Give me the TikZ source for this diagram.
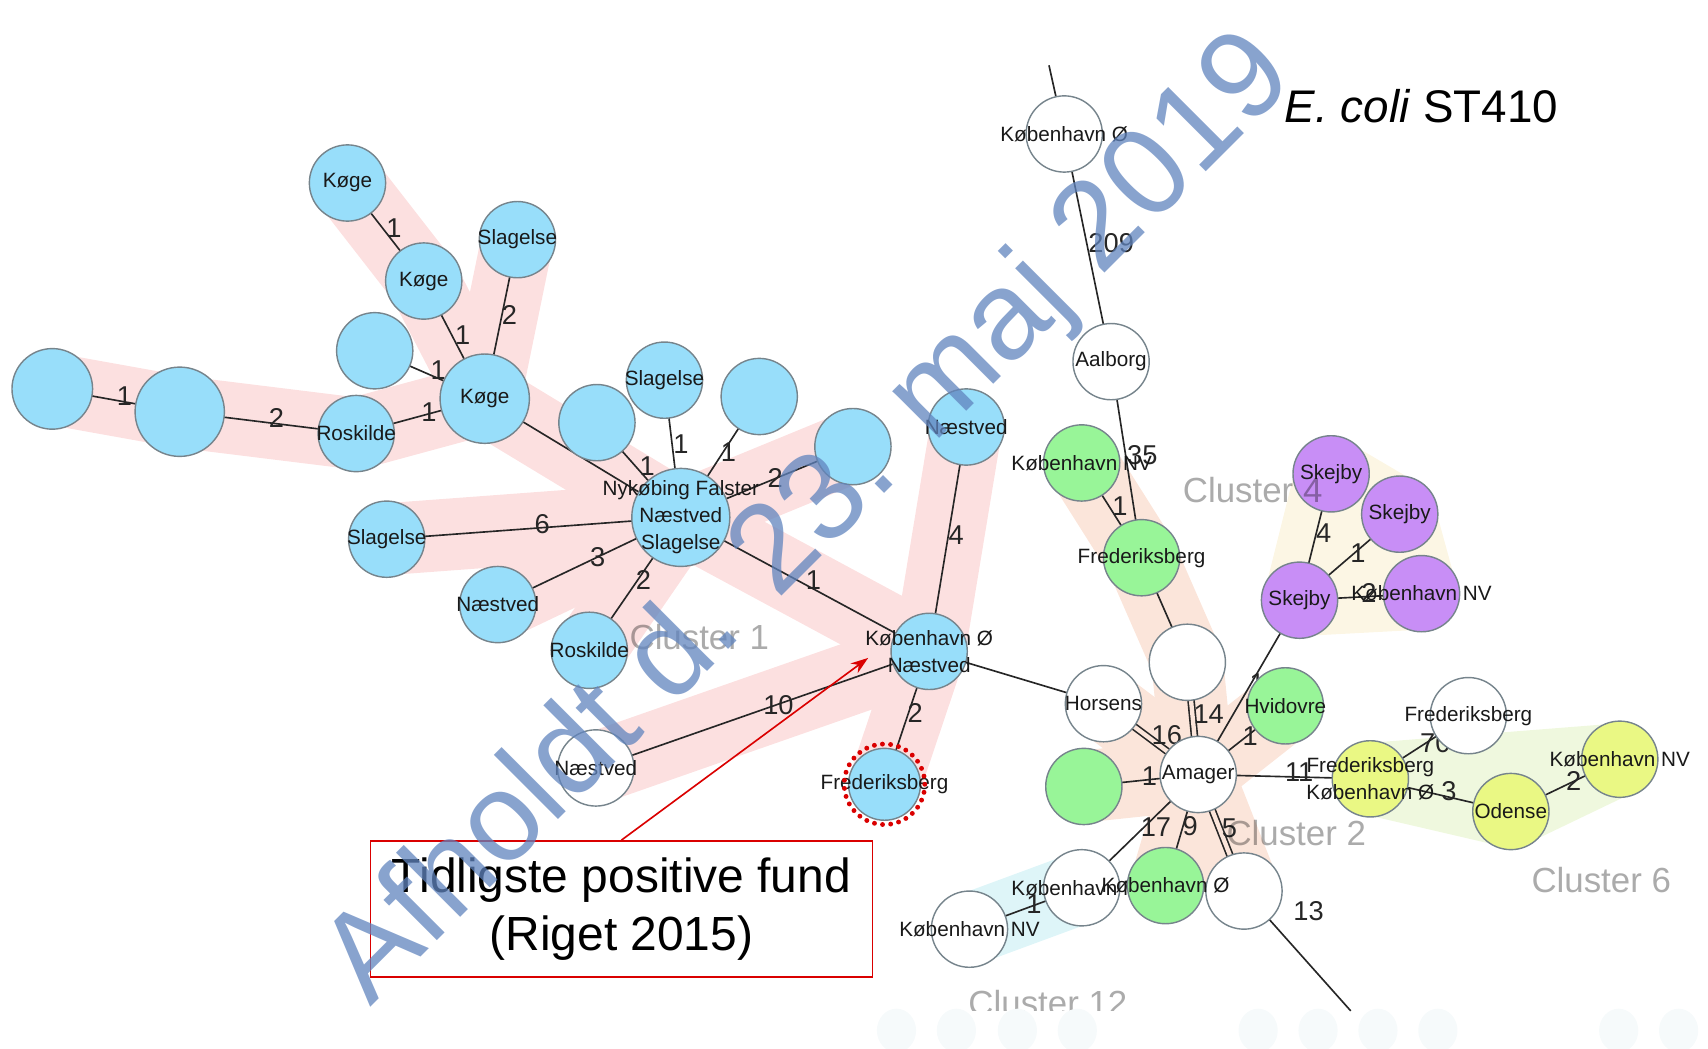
\documentclass[tikz,border=0pt]{standalone}
\usepackage{fontspec}
\setmainfont{Liberation Sans}
\usetikzlibrary{arrows.meta}

\pgfdeclarelayer{hull}
\pgfdeclarelayer{edges}
\pgfdeclarelayer{front}
\pgfsetlayers{hull,edges,main,front}

\definecolor{cblue}{RGB}{152,222,250}
\definecolor{cgreen}{RGB}{152,245,152}
\definecolor{cpurple}{RGB}{200,142,246}
\definecolor{cyellow}{RGB}{234,248,132}
\definecolor{rim}{RGB}{118,132,140}
\definecolor{ink}{RGB}{25,25,25}
\definecolor{pinkhull}{RGB}{252,224,224}
\definecolor{salmonhull}{RGB}{251,229,218}
\definecolor{creamhull}{RGB}{252,246,228}
\definecolor{lemonhull}{RGB}{239,248,222}
\definecolor{cyanhull}{RGB}{222,245,248}
\definecolor{faint}{RGB}{246,250,251}
\definecolor{stampblue}{RGB}{96,132,190}
\definecolor{notered}{RGB}{218,0,0}

\newcommand{\cityfont}{\fontsize{19}{25}\selectfont}
\newcommand{\snpfont}{\fontsize{25}{28}\selectfont}
\newcommand{\clusterfont}{\fontsize{32}{36}\selectfont}

\begin{document}
\begin{tikzpicture}[x=1pt, y=-1pt,
	city/.style={circle, draw=rim, line width=1.3pt, minimum size=70pt, inner sep=0pt},
	txt/.style={label={[font=\cityfont, align=center, text=ink, inner sep=0pt]center:#1}},
	bluecity/.style={city, fill=cblue},
	greencity/.style={city, fill=cgreen},
	purplecity/.style={city, fill=cpurple},
	yellowcity/.style={city, fill=cyellow},
	whitecity/.style={city, fill=white},
	link/.style={draw=black!85, line width=1.5pt},
	twin/.style={link, double=salmonhull, double distance=4pt},
	snp/.style={anchor=west, inner sep=0pt, yshift=4pt, font=\snpfont, text=black!85},
	hull/.style={line width=66pt, line cap=round, line join=round, draw=#1},
	cluster/.style={font=\clusterfont, text=black, opacity=0.33},
	callout/.style={draw=notered, line width=1.5pt, minimum width=461pt, minimum height=125pt, align=center, font=\fontsize{44}{54}\selectfont},
	pointer/.style={draw=notered, line width=1.5pt, -{Stealth[length=16pt, width=11pt]}},
	stamp/.style={rotate=45, inner sep=0pt, font=\fontsize{115}{120}\selectfont, text=stampblue, text opacity=0.75}]
	\useasboundingbox (0,0) rectangle (1568,963);

	% cluster 1
	\node[bluecity, txt=Køge] (koge1) at (319,168) {};
	\node[bluecity, txt=Køge] (koge2) at (389,258) {};
	\node[bluecity, txt=Slagelse] (slag1) at (475,220) {};
	\node[bluecity] (blank1) at (344,322) {};
	\node[bluecity, minimum size=82pt, txt=Køge] (kogehub) at (445,366) {};
	\node[bluecity, minimum size=74pt] (blank2) at (48,357) {};
	\node[bluecity, minimum size=82pt] (blank3) at (165,378) {};
	\node[bluecity, txt=Roskilde] (rosk1) at (327,398) {};
	\node[bluecity] (blank4) at (548,388) {};
	\node[bluecity, txt=Slagelse] (slag2) at (610,349) {};
	\node[bluecity] (blank5) at (697,364) {};
	\node[bluecity] (blank6) at (783,410) {};
	\node[bluecity, minimum size=90pt, txt={Nykøbing Falster\\Næstved\\Slagelse}] (nyk) at (625,475) {};
	\node[bluecity, txt=Slagelse] (slag3) at (355,495) {};
	\node[bluecity, txt=Næstved] (naes1) at (457,555) {};
	\node[bluecity, txt=Roskilde] (rosk2) at (541,597) {};
	\node[bluecity, txt=Næstved] (naes2) at (887,392) {};
	\node[bluecity, txt={København Ø\\Næstved}] (kbhhub) at (853,598) {};
	\node[bluecity, minimum size=66pt, txt=Frederiksberg] (frb1) at (812,720) {};

	% unclustered
	\node[whitecity, txt=København Ø] (kbhoe1) at (977,123) {};
	\node[whitecity, txt=Aalborg] (aalb) at (1020,332) {};
	\node[whitecity] (blank7) at (1090,608) {};
	\node[whitecity, txt=Horsens] (hors) at (1013,646) {};
	\node[whitecity, txt=Amager] (amag) at (1100,711) {};
	\node[whitecity, txt=Næstved] (naes3) at (547,705) {};
	\node[whitecity] (blank9) at (1142,818) {};
	\node[whitecity, txt=København NV] (kbhnv1) at (993,815) {};
	\node[whitecity, txt=København NV] (kbhnv2) at (890,853) {};
	\node[whitecity, txt=Frederiksberg] (frb2) at (1348,657) {};

	% cluster 2
	\node[greencity, txt=København NV] (kbhnv3) at (993,425) {};
	\node[greencity, txt=Frederiksberg] (frb3) at (1048,512) {};
	\node[greencity, txt=Hvidovre] (hvid) at (1180,648) {};
	\node[greencity] (blank8) at (995,722) {};
	\node[greencity, txt=København Ø] (kbhoe3) at (1070,813) {};

	% cluster 4
	\node[purplecity, txt=Skejby] (skej1) at (1222,435) {};
	\node[purplecity, txt=Skejby] (skej2) at (1285,472) {};
	\node[purplecity, txt=Skejby] (skej3) at (1193,551) {};
	\node[purplecity, txt=København NV] (kbhnv4) at (1305,545) {};

	% cluster 6
	\node[yellowcity, txt={Frederiksberg\\København Ø}] (frbkbh) at (1258,715) {};
	\node[yellowcity, txt=Odense] (odense) at (1387,745) {};
	\node[yellowcity, txt=København NV] (kbhnv5) at (1487,697) {};

	\coordinate (topend) at (963,60);
	\coordinate (lowend) at (1240,928);

	\begin{pgfonlayer}{hull}
	\draw[hull=pinkhull] (blank2.center) -- (blank3.center) -- (rosk1.center) -- (kogehub.center);
	\draw[hull=pinkhull] (koge1.center) -- (koge2.center) -- (kogehub.center) -- (slag1.center);
	\draw[hull=pinkhull] (kogehub.center) -- (nyk.center) -- (kbhhub.center) -- (naes2.center);
	\draw[hull=pinkhull] (nyk.center) -- (blank6.center);
	\draw[hull=pinkhull] (slag3.center) -- (nyk.center) -- (naes1.center);
	\draw[hull=pinkhull] (nyk.center) -- (rosk2.center);
	\draw[hull=pinkhull] (naes3.center) -- (kbhhub.center) -- (frb1.center);
	\draw[hull=salmonhull] (kbhnv3.center) -- (frb3.center) -- (blank7.center) -- (amag.center) -- (hvid.center);
	\draw[hull=salmonhull] (hors.center) -- (amag.center) -- (blank8.center);
	\draw[hull=salmonhull] (kbhoe3.center) -- (amag.center) -- (blank9.center);
	\draw[hull=cyanhull] (kbhnv2.center) -- (kbhnv1.center);
	\filldraw[hull=creamhull, fill=creamhull] (skej1.center) -- (skej2.center) -- (kbhnv4.center) -- (skej3.center) -- cycle;
	\filldraw[hull=lemonhull, fill=lemonhull] (frbkbh.center) -- (kbhnv5.center) -- (odense.center) -- cycle;
	\end{pgfonlayer}

	\begin{pgfonlayer}{edges}
	\draw[link] (blank2.center) -- node[snp]{1} (blank3.center);
	\draw[link] (blank3.center) -- node[snp]{2} (rosk1.center);
	\draw[link] (rosk1.center) -- node[snp]{1} (kogehub.center);
	\draw[link] (koge1.center) -- node[snp]{1} (koge2.center);
	\draw[link] (koge2.center) -- node[snp]{1} (kogehub.center);
	\draw[link] (slag1.center) -- node[snp]{2} (kogehub.center);
	\draw[link] (blank1.center) -- node[snp]{1} (kogehub.center);
	\draw[link] (kogehub.center) -- (nyk.center);
	\draw[link] (blank4.center) -- node[snp]{1} (nyk.center);
	\draw[link] (slag2.center) -- node[snp]{1} (nyk.center);
	\draw[link] (blank5.center) -- node[snp]{1} (nyk.center);
	\draw[link] (blank6.center) -- node[snp]{2} (nyk.center);
	\draw[link] (slag3.center) -- node[snp]{6} (nyk.center);
	\draw[link] (naes1.center) -- node[snp]{3} (nyk.center);
	\draw[link] (rosk2.center) -- node[snp]{2} (nyk.center);
	\draw[link] (nyk.center) -- node[snp]{1} (kbhhub.center);
	\draw[link] (naes2.center) -- node[snp]{4} (kbhhub.center);
	\draw[link] (kbhhub.center) -- node[snp]{2} (frb1.center);
	\draw[link] (kbhhub.center) -- node[snp]{10} (naes3.center);
	\draw[link] (kbhhub.center) -- (hors.center);

	\draw[link] (topend) -- (kbhoe1.center);
	\draw[link] (kbhoe1.center) -- node[snp]{209} (aalb.center);
	\draw[link] (aalb.center) -- node[snp]{35} (frb3.center);
	\draw[link] (kbhnv3.center) -- node[snp]{1} (frb3.center);
	\draw[link] (frb3.center) -- (blank7.center);
	\draw[twin] (blank7.center) -- node[snp]{14} (amag.center);
	\draw[twin] (hors.center) -- node[snp]{16} (amag.center);
	\draw[link] (amag.center) -- node[snp]{1} (hvid.center);
	\draw[link] (amag.center) -- node[snp]{1} (skej3.center);
	\draw[link] (blank8.center) -- node[snp]{1} (amag.center);
	\draw[link] (amag.center) -- node[snp]{11} (frbkbh.center);
	\draw[link] (amag.center) -- node[snp]{17} (kbhnv1.center);
	\draw[link] (amag.center) -- node[snp]{9} (kbhoe3.center);
	\draw[twin] (amag.center) -- node[snp]{5} (blank9.center);
	\draw[link] (blank9.center) -- node[snp, pos=0.2, xshift=25pt]{13} (lowend);
	\draw[link] (kbhnv2.center) -- node[snp]{1} (kbhnv1.center);

	\draw[link] (skej1.center) -- node[snp]{4} (skej3.center);
	\draw[link] (skej3.center) -- node[snp]{1} (skej2.center);
	\draw[link] (skej3.center) -- node[snp]{2} (kbhnv4.center);
	\draw[link] (frbkbh.center) -- node[snp]{70} (frb2.center);
	\draw[link] (frbkbh.center) -- node[snp]{3} (odense.center);
	\draw[link] (odense.center) -- node[snp]{2} (kbhnv5.center);
	\end{pgfonlayer}

	% dotted ring round the earliest isolate
	\draw[notered, line width=4.5pt, line cap=round, dash pattern=on 0pt off 7.5pt] (frb1.center) circle (37pt);

	\node[cluster] (c1) at (642,585) {Cluster 1};
	\node[cluster] (c4) at (1150,450) {Cluster 4};
	\node[cluster] (c2) at (1190,765) {Cluster 2};
	\node[cluster] (c6) at (1470,808) {Cluster 6};
	\begin{scope}
		\clip (0,0) rectangle (1568,928);
		\node[cluster] (c12) at (962,921) {Cluster 12};
	\end{scope}
	\foreach \x in {823,878,934,989,1155,1210,1265,1320,1486,1541}
		\fill[faint] (\x,946) ellipse (18pt and 20pt);

	\node[font=\fontsize{42}{46}\selectfont] (title) at (1305,97) {\textit{E. coli} ST410};

	\node[callout] (note) at (570.5,834.5) {Tidligste positive fund\\(Riget 2015)};
	\coordinate (tip) at (797,604);
	\draw[pointer] (note.north) -- (tip);

	\begin{pgfonlayer}{front}
	\node[stamp] (stamp) at (745,478) {Afholdt d. 23. maj 2019};
	\end{pgfonlayer}
\end{tikzpicture}
\end{document}
